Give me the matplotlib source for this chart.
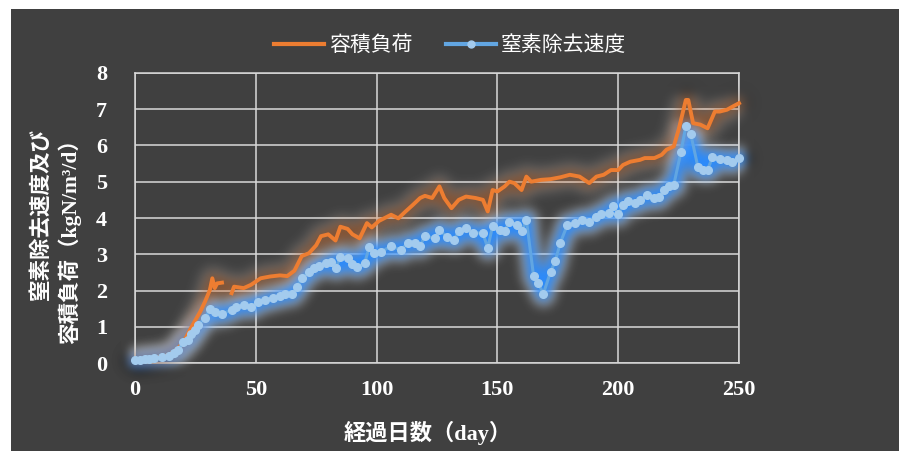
import numpy as np
import matplotlib
matplotlib.use("Agg")
import matplotlib.pyplot as plt
from matplotlib.patches import Rectangle
from matplotlib.lines import Line2D

# 容積負荷 (kgN/m3/d) vs elapsed day; NaN marks the missing stretch
load_days = [0, 4, 8, 12, 16, 19, 21, 23, 25, 27, 29, 31, 32, 33, 34, 36, 38,
             40, 41, 45, 48, 52, 56, 60, 63, 66, 69, 72, 75, 77, 80, 83, 85, 88,
             90, 93, 96, 98, 101, 106, 109, 112, 115, 118, 120, 123, 126, 128,
             131, 134, 137, 141, 144, 146, 148, 150, 153, 155, 157, 160, 162,
             164, 168, 172, 176, 180, 184, 188, 191, 194, 197, 200, 202, 205,
             209, 211, 215, 218, 220, 223, 225, 228, 229, 231, 234, 237, 240,
             242, 245, 248, 250]
load_values = [0.10, 0.12, 0.14, 0.18, 0.30, 0.50, 0.70, 0.95, 1.19, 1.42, 1.70,
               2.02, 2.34, 2.07, 2.20, 2.22, np.nan, 1.93, 2.11, 2.07, 2.16,
               2.34, 2.39, 2.42, 2.40, 2.55, 2.95, 3.03, 3.25, 3.50, 3.55, 3.38,
               3.76, 3.70, 3.55, 3.44, 3.86, 3.74, 3.92, 4.09, 3.99, 4.18, 4.36,
               4.55, 4.61, 4.55, 4.87, 4.55, 4.27, 4.50, 4.59, 4.55, 4.50, 4.18,
               4.77, 4.73, 4.87, 5.00, 4.96, 4.77, 5.14, 5.00, 5.05, 5.07, 5.12,
               5.19, 5.14, 4.96, 5.14, 5.19, 5.32, 5.32, 5.46, 5.55, 5.60, 5.65,
               5.65, 5.74, 5.88, 5.97, 6.43, 7.25, 7.25, 6.61, 6.57, 6.47, 6.93,
               6.93, 6.98, 7.09, 7.16]

# 窒素除去速度 (kgN/m3/d) vs elapsed day
removal_days = [0, 2, 4, 6, 8, 11, 14, 16, 18, 20, 22, 23, 25, 26, 29, 31, 33,
                36, 40, 42, 45, 48, 51, 54, 57, 60, 62, 65, 67, 69, 72, 74, 76,
                79, 81, 83, 85, 88, 90, 92, 95, 97, 99, 102, 106, 110, 113, 116,
                118, 120, 124, 126, 129, 132, 134, 137, 140, 144, 146, 148, 151,
                153, 155, 158, 160, 162, 165, 167, 169, 172, 174, 176, 179, 182,
                185, 188, 191, 193, 196, 198, 200, 202, 204, 207, 209, 212, 215,
                217, 219, 221, 223, 226, 228, 230, 233, 235, 237, 239, 242, 245,
                247, 250]
removal_values = [0.10, 0.10, 0.12, 0.13, 0.14, 0.17, 0.19, 0.27, 0.37, 0.60,
                  0.65, 0.80, 0.92, 1.05, 1.24, 1.50, 1.42, 1.36, 1.47, 1.56,
                  1.60, 1.55, 1.70, 1.75, 1.80, 1.85, 1.90, 1.91, 2.10, 2.34,
                  2.52, 2.63, 2.68, 2.75, 2.78, 2.62, 2.92, 2.90, 2.72, 2.66,
                  2.75, 3.21, 3.03, 3.07, 3.23, 3.12, 3.31, 3.31, 3.23, 3.51,
                  3.44, 3.67, 3.49, 3.40, 3.63, 3.72, 3.60, 3.58, 3.17, 3.78,
                  3.67, 3.65, 3.90, 3.80, 3.63, 3.95, 2.39, 2.20, 1.91, 2.52,
                  2.82, 3.31, 3.82, 3.85, 3.95, 3.90, 4.02, 4.11, 4.15, 4.33,
                  4.11, 4.35, 4.48, 4.41, 4.50, 4.64, 4.55, 4.59, 4.77, 4.88,
                  4.91, 5.83, 6.52, 6.32, 5.40, 5.33, 5.33, 5.67, 5.62, 5.60,
                  5.55, 5.65]

x_ticks = [0, 50, 100, 150, 200, 250]
y_ticks = [0, 1, 2, 3, 4, 5, 6, 7, 8]
legend_labels = ["容積負荷", "窒素除去速度"]
x_label = "経過日数（day）"
y_label = "窒素除去速度及び\n容積負荷（kgN/m³/d）"

BG = "#404040"
ORANGE = "#ED7D31"
ORANGE_GLOW = "#D2651E"
BLUE = "#62A6E2"
BLUE_GLOW = "#2A8CFF"
BLUE_MARK = "#A3CBEE"
GRID = "#D9D9D9"
SERIF = ["Liberation Serif", "Noto Sans CJK JP"]


class GlowFilter:
    """Gaussian blur applied to an artist's rendered pixels."""

    def __init__(self, sigma, alpha):
        self.sigma = sigma
        self.alpha = alpha

    def __call__(self, im, dpi):
        r = int(3 * self.sigma)
        a = np.pad(im, [(r, r), (r, r), (0, 0)], "constant")
        k = np.exp(-0.5 * (np.arange(-r, r + 1) / self.sigma) ** 2)
        k /= k.sum()
        for axis in (0, 1):
            out = np.zeros_like(a)
            for i, w in zip(range(-r, r + 1), k):
                out += w * np.roll(a, i, axis=axis)
            a = out
        a[..., 3] = np.clip(a[..., 3] * self.alpha, 0, 1)
        return a, -r, -r


W, H = 899, 451
fig = plt.figure(figsize=(W / 100, H / 100), dpi=100, facecolor="white")
fig.patches.append(Rectangle((11 / W, 0), 1 - 11 / W, (H - 9) / H,
                             transform=fig.transFigure, facecolor=BG,
                             edgecolor="none", zorder=-10))

ax = fig.add_axes([135 / W, 87.7 / H, 604 / W, 290.6 / H])
ax.set_facecolor(BG)
ax.set_xlim(0, 250)
ax.set_ylim(0, 8)
ax.set_xticks(x_ticks)
ax.set_yticks(y_ticks)
ax.set_axisbelow(True)
ax.grid(True, color=GRID, lw=1.1)
for s in ax.spines.values():
    s.set_color(GRID)
    s.set_linewidth(1.1)
ax.tick_params(length=0, colors="white")
ax.tick_params(axis="x", pad=12)
ax.tick_params(axis="y", pad=20)
for lab in ax.get_xticklabels() + ax.get_yticklabels():
    lab.set_fontfamily(SERIF)
    lab.set_fontweight("bold")
    lab.set_fontsize(16)

# blurred halo behind the removal-rate series
blue_halo, = ax.plot(removal_days, removal_values, color=BLUE_GLOW, lw=12,
                     marker="o", ms=14, mew=0, solid_capstyle="round",
                     solid_joinstyle="round", clip_on=False, zorder=2)
blue_halo.set_agg_filter(GlowFilter(sigma=6.0, alpha=1.0))
blue_halo.set_rasterized(True)

# halo and line for the loading series
orange_halo, = ax.plot(load_days, load_values, color=ORANGE_GLOW, lw=12,
                       solid_capstyle="round", solid_joinstyle="round",
                       clip_on=False, zorder=3)
orange_halo.set_agg_filter(GlowFilter(sigma=7.0, alpha=0.5))
orange_halo.set_rasterized(True)
ax.plot(load_days, load_values, color=ORANGE, lw=2.8,
        solid_joinstyle="round", clip_on=False, zorder=4)

ax.plot(removal_days, removal_values, color=BLUE, lw=2.2, marker="o", ms=5.5,
        mfc=BLUE_MARK, mec=BLUE_MARK, solid_joinstyle="round",
        clip_on=False, zorder=5)

fig.text(428 / W, 1 - 433 / H, x_label, ha="center", va="center",
         color="white", fontsize=16, fontweight="bold", family=SERIF)
fig.text(56 / W, 1 - 236 / H, y_label, rotation=90, ha="center", va="center",
         multialignment="right", linespacing=1.3, color="white",
         fontsize=15.5, fontweight="bold", family=SERIF)

handles = [Line2D([], [], color=ORANGE, lw=3),
           Line2D([], [], color=BLUE, lw=3, marker="o", ms=5,
                  mfc=BLUE_MARK, mec=BLUE_MARK)]
leg = fig.legend(handles, legend_labels, loc="center", ncol=2,
                 bbox_to_anchor=(450 / W, 1 - 45 / H),
                 bbox_transform=fig.transFigure, frameon=False,
                 prop={"family": "Noto Sans CJK JP", "size": 15},
                 labelcolor="white", handlelength=2.4, handletextpad=0.25,
                 columnspacing=1.6)

fig.savefig("out.png", dpi=100, facecolor=fig.get_facecolor())
